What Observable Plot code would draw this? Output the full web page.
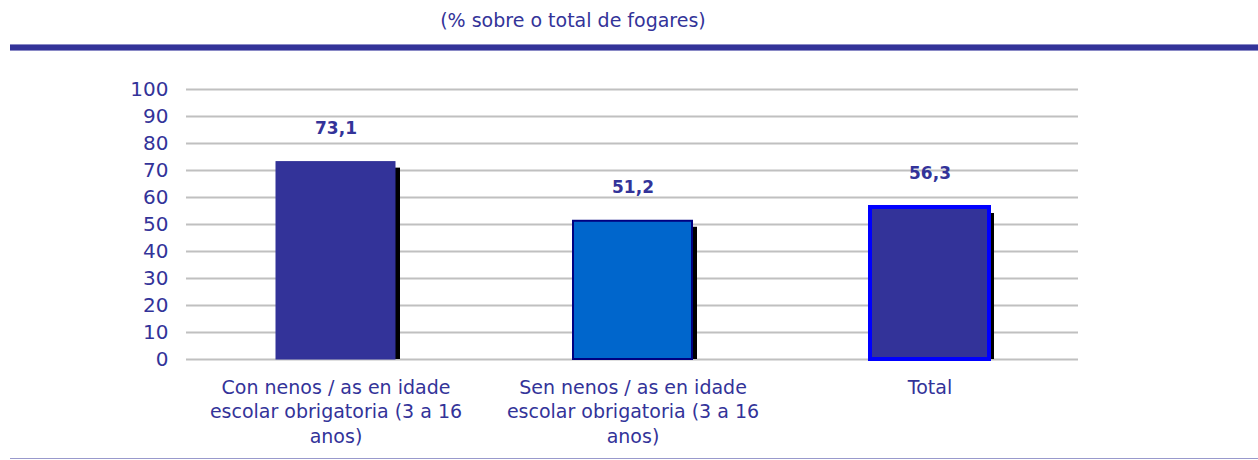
<!DOCTYPE html>
<html>
<head>
<meta charset="utf-8">
<script src="https://cdn.jsdelivr.net/npm/d3@7"></script>
<script src="https://cdn.jsdelivr.net/npm/@observablehq/plot@0.6"></script>
<style>
  html, body { margin: 0; padding: 0; background: #fff; }
  body { width: 1258px; height: 460px; position: relative; overflow: hidden; font-family: "DejaVu Sans", Verdana, sans-serif; }
  #title { position: absolute; top: 9px; left: 0; width: 1146px; text-align: center; color: #333399; font-size: 19px; line-height: 22px; }
  #topline { position: absolute; top: 44px; left: 10px; width: 1248px; height: 5px; background: #333399; border-top: 1px solid #8a8ac6; border-bottom: 1px solid #8a8ac6; }
  #chart { position: absolute; top: 52px; left: 0; }
  #bottomline { position: absolute; top: 458px; left: 10px; width: 1248px; height: 1px; background: #9999cc; }
</style>
</head>
<body>
<div id="title">(% sobre o total de fogares)</div>
<div id="topline"></div>
<div id="chart"></div>
<div id="bottomline"></div>
<script>
const categories = [
  "Con nenos / as en idade escolar obrigatoria (3 a 16 anos)",
  "Sen nenos / as en idade escolar obrigatoria (3 a 16 anos)",
  "Total"
];
const tickLabels = [
  "Con nenos / as en idade\nescolar obrigatoria (3 a 16\nanos)",
  "Sen nenos / as en idade\nescolar obrigatoria (3 a 16\nanos)",
  "Total"
];
const values = [73.1, 51.2, 56.3];
const yTicks = [0, 10, 20, 30, 40, 50, 60, 70, 80, 90, 100];

const barStyles = [
  {fill: "#333399", stroke: "#333399", strokeWidth: 1},
  {fill: "#0066cc", stroke: "#000080", strokeWidth: 2},
  {fill: "#333399", stroke: "#0000ff", strokeWidth: 4}
];

const data = categories.map((c, i) => ({cat: c, value: values[i], i}));
const fmt = v => v.toFixed(1).replace(".", ",");
const labelOf = new Map(categories.map((c, i) => [c, tickLabels[i]]));

const inset = 89;
const plot = Plot.plot({
  width: 1258,
  height: 405,
  marginTop: 37,
  marginBottom: 98,
  marginLeft: 186,
  marginRight: 180,
  style: {fontFamily: "DejaVu Sans, Verdana, sans-serif", color: "#333399", background: "transparent"},
  x: {domain: categories, padding: 0},
  y: {domain: [0, 100]},
  marks: [
    Plot.ruleY(yTicks, {stroke: "#c0c0c0", strokeWidth: 2, strokeOpacity: 1}),
    Plot.axisY(yTicks, {tickSize: 0, tickPadding: 18, fontSize: 20, fill: "#333399", label: null}),
    Plot.axisX({tickSize: 0, tickPadding: 17, fontSize: 19, fill: "#333399", label: null, lineHeight: 1.29, tickFormat: d => labelOf.get(d)}),
    // shadow
    Plot.barY(data, {x: "cat", y: "value", fill: "#000", insetLeft: inset, insetRight: inset, insetTop: 6, dx: 5}),
    // bars
    ...barStyles.map((s, i) => Plot.barY(data.filter(d => d.i === i), {
      x: "cat", y: "value", insetLeft: inset, insetRight: inset,
      fill: s.fill, stroke: s.stroke, strokeWidth: s.strokeWidth
    })),
    Plot.text(data, {x: "cat", y: "value", text: d => fmt(d.value), dy: -34, fontSize: 17, fontWeight: "bold", fill: "#333399"})
  ]
});
document.getElementById("chart").appendChild(plot);
</script>
</body>
</html>
